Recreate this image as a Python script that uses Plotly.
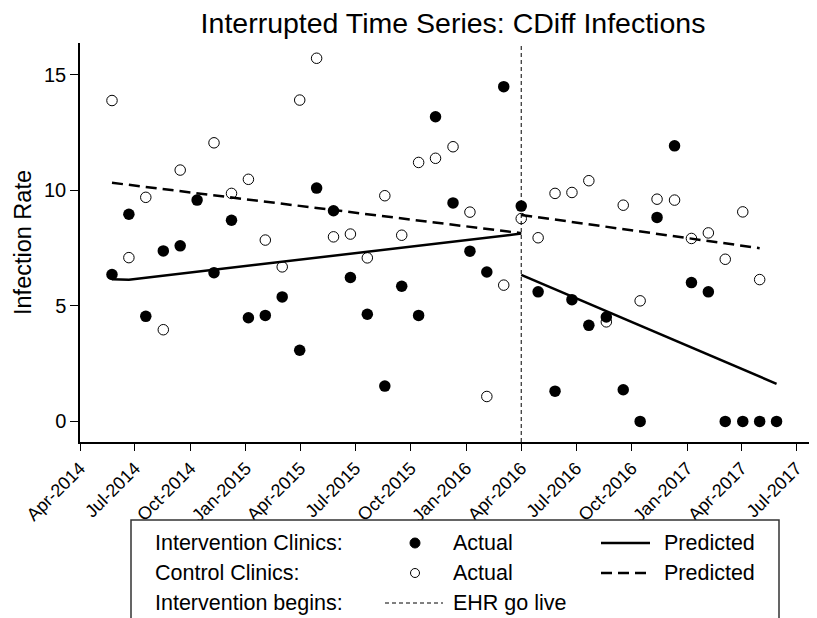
import plotly.graph_objects as go

# ---------------- data ----------------
periods = [
    "2014-05-24", "2014-06-21", "2014-07-19", "2014-08-17", "2014-09-14",
    "2014-10-12", "2014-11-09", "2014-12-08", "2015-01-05", "2015-02-02",
    "2015-03-02", "2015-03-31", "2015-04-28", "2015-05-26", "2015-06-23",
    "2015-07-21", "2015-08-19", "2015-09-16", "2015-10-14", "2015-11-11",
    "2015-12-10", "2016-01-07", "2016-02-04", "2016-03-03", "2016-04-01",
    "2016-04-29", "2016-05-27", "2016-06-24", "2016-07-22", "2016-08-20",
    "2016-09-17", "2016-10-15", "2016-11-12", "2016-12-11", "2017-01-08",
    "2017-02-05", "2017-03-05", "2017-04-03", "2017-05-01", "2017-05-29",
]

intervention_actual = [
    6.36, 8.97, 4.55, 7.38, 7.60, 9.58, 6.44, 8.71, 4.49, 4.59,
    5.39, 3.08, 10.10, 9.12, 6.23, 4.64, 1.53, 5.85, 4.59, 13.19,
    9.46, 7.37, 6.47, 14.49, 9.32, 5.61, 1.31, 5.27, 4.16, 4.52,
    1.37, 0.0, 8.83, 11.93, 6.01, 5.61, 0.0, 0.0, 0.0, 0.0,
]

control_actual = [
    13.89, 7.09, 9.70, 3.97, 10.88, None, 12.06, 9.87, 10.48, 7.85,
    6.69, 13.91, 15.72, 7.99, 8.11, 7.08, 9.77, 8.06, 11.21, 11.39,
    11.89, 9.06, 1.08, 5.90, 8.78, 7.95, 9.87, 9.91, 10.42, 4.31,
    9.36, 5.22, 9.62, 9.58, 7.92, 8.16, 7.02, 9.07, 6.14, None,
]

pred_int_pre_x = ["2014-05-24", "2014-06-21", "2016-04-01"]
pred_int_pre_y = [6.15, 6.13, 8.13]
pred_ctl_pre_x = ["2014-05-24", "2016-04-01"]
pred_ctl_pre_y = [10.33, 8.15]
pred_int_post_x = ["2016-04-01", "2017-05-29"]
pred_int_post_y = [6.34, 1.63]
pred_ctl_post_x = ["2016-04-01", "2017-05-01"]
pred_ctl_post_y = [8.94, 7.50]

intervention_date = "2016-04-01"

y_ticks = [0, 5, 10, 15]

title_text = "Interrupted Time Series: CDiff Infections"
y_title = "Infection Rate"

# ---------------- figure ----------------
FONT = "Liberation Sans, Arial, sans-serif"
OFF = 8  # page body margin offset
W, H = 817 - OFF, 618 - OFF
ML, MR, MT, MB = 80 - OFF, 0, 43 - OFF, 176
PW, PH = W - ML - MR, H - MT - MB

fig = go.Figure()

fig.add_trace(go.Scatter(
    x=periods, y=control_actual, mode="markers",
    marker=dict(symbol="circle", size=10.5, color="white",
                line=dict(color="black", width=1)),
    showlegend=False, cliponaxis=False))

fig.add_trace(go.Scatter(
    x=periods, y=intervention_actual, mode="markers",
    marker=dict(symbol="circle", size=11.5, color="black",
                line=dict(color="black", width=0)),
    showlegend=False, cliponaxis=False))

for xs, ys, dash in [(pred_int_pre_x, pred_int_pre_y, "solid"),
                     (pred_int_post_x, pred_int_post_y, "solid"),
                     (pred_ctl_pre_x, pred_ctl_pre_y, "11px,6px"),
                     (pred_ctl_post_x, pred_ctl_post_y, "11px,6px")]:
    fig.add_trace(go.Scatter(
        x=xs, y=ys, mode="lines",
        line=dict(color="black", width=2.5, dash=dash),
        showlegend=False))

# intervention vertical line
fig.add_shape(type="line", xref="x", yref="y domain",
              x0=intervention_date, x1=intervention_date, y0=0, y1=1,
              line=dict(color="black", width=1, dash="4px,3px"))


def px_x(px):
    return (px - OFF - ML) / PW


def px_y(py):
    return (H - MB - (py - OFF)) / PH


# legend box
fig.add_shape(type="rect", xref="paper", yref="paper",
              x0=px_x(131), x1=px_x(779), y0=px_y(640), y1=px_y(520),
              line=dict(color="#333333", width=1.5), fillcolor="white")

rows = [543, 573, 603]
legend_font = dict(family=FONT, size=21.5, color="black")


def label(px, py, text):
    fig.add_annotation(x=px_x(px), y=px_y(py), xref="paper", yref="paper",
                       text=text, showarrow=False, xanchor="left",
                       yanchor="middle", font=legend_font)


label(153, rows[0], "Intervention Clinics:")
label(153, rows[1], "Control Clinics:")
label(153, rows[2], "Intervention begins:")
label(451, rows[0], "Actual")
label(451, rows[1], "Actual")
label(451, rows[2], "EHR go live")
label(662, rows[0], "Predicted")
label(662, rows[1], "Predicted")

# legend markers
fig.add_shape(type="circle", xref="paper", yref="paper",
              xsizemode="pixel", ysizemode="pixel",
              xanchor=px_x(415), yanchor=px_y(rows[0]),
              x0=-5, x1=5, y0=-5, y1=5,
              line=dict(color="black", width=1), fillcolor="black")
fig.add_shape(type="circle", xref="paper", yref="paper",
              xsizemode="pixel", ysizemode="pixel",
              xanchor=px_x(415), yanchor=px_y(rows[1]),
              x0=-4.5, x1=4.5, y0=-4.5, y1=4.5,
              line=dict(color="black", width=1), fillcolor="white")
# legend lines
fig.add_shape(type="line", xref="paper", yref="paper",
              x0=px_x(601), x1=px_x(650), y0=px_y(rows[0]), y1=px_y(rows[0]),
              line=dict(color="black", width=2.5))
fig.add_shape(type="line", xref="paper", yref="paper",
              x0=px_x(601), x1=px_x(650), y0=px_y(rows[1]), y1=px_y(rows[1]),
              line=dict(color="black", width=2.5, dash="11px,6px"))
fig.add_shape(type="line", xref="paper", yref="paper",
              x0=px_x(385), x1=px_x(443), y0=px_y(rows[2]), y1=px_y(rows[2]),
              line=dict(color="black", width=1, dash="4px,3px"))

fig.update_layout(
    width=W, height=H,
    margin=dict(l=ML, r=MR, t=MT, b=MB, pad=0, autoexpand=False),
    paper_bgcolor="white", plot_bgcolor="white",
    font=dict(family=FONT, color="black"),
    title=dict(text=title_text, x=(453 - OFF) / W, xref="container",
               xanchor="center", y=1 - (23 - OFF) / H, yanchor="middle",
               font=dict(family=FONT, size=28.5, color="black"),
               automargin=False),
    showlegend=False,
)

fig.update_xaxes(
    type="date", range=["2014-04-01", "2017-08-04"], automargin=False,
    tick0="2014-04-01", dtick="M3", tickformat="%b-%Y",
    tickangle=-45, ticks="outside", ticklen=7, tickwidth=1.3,
    tickcolor="black", showline=True, linecolor="black", linewidth=1.5,
    showgrid=False, zeroline=False,
    tickfont=dict(family=FONT, size=18, color="black"),
)
fig.update_yaxes(
    range=[-0.89, 16.38], tickvals=y_ticks, ticktext=[str(v) for v in y_ticks],
    automargin=False,
    ticks="outside", ticklen=8, tickwidth=1.3, tickcolor="black",
    showline=True, linecolor="black", linewidth=1.5,
    showgrid=False, zeroline=False,
    tickfont=dict(family=FONT, size=20, color="black"),
    title=dict(text=y_title, standoff=6,
               font=dict(family=FONT, size=23.5, color="black")),
)

fig.write_html("out.html")
